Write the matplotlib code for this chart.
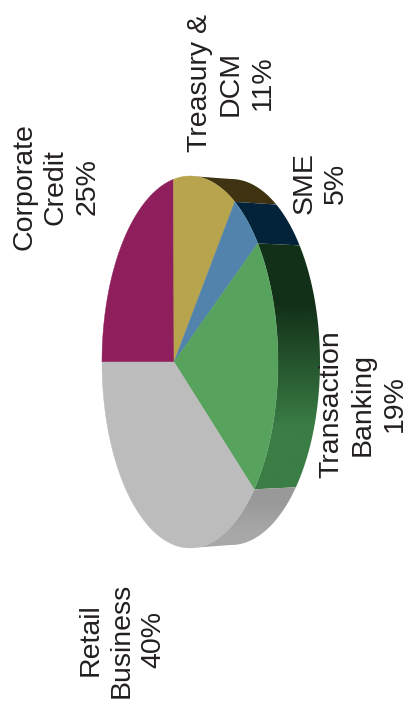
import numpy as np
import matplotlib
matplotlib.use("Agg")
import matplotlib.pyplot as plt
from matplotlib.patches import Polygon
from matplotlib.colors import to_rgb

plt.rcParams['font.family'] = ['Liberation Sans', 'DejaVu Sans']

# order: clockwise on screen starting from the left edge of the ellipse
labels = ["Corporate\nCredit\n25%", "Treasury &\nDCM\n11%", "SME\n5%",
          "Transaction\nBanking\n19%", "Retail\nBusiness\n40%"]
# shares of the rim as drawn, the 3D tilt makes them differ from the printed %
shares = [22.0, 11.5, 5.5, 23.0, 38.0]
top_colors = ["#8f1f5c", "#b8a44c", "#5283ad", "#57a25c", "#bcbcbc"]
# wall colours at the upper and lower end of each slice
wall_upper = ["#8f1f5c", "#3f3312", "#03233a", "#123018", "#999999"]
wall_lower = ["#8f1f5c", "#3f3312", "#03233a", "#3a7d45", "#a8a8a8"]
label_x = [56, 231, 320, 363, 122]
label_y = [187, 83, 183, 404, 640]

W, H = 411, 708
fig = plt.figure(figsize=(W / 100, H / 100), dpi=100)
ax = fig.add_axes([0, 0, 1, 1])
ax.set_xlim(0, W)
ax.set_ylim(H, 0)
ax.axis("off")

# front face ellipse, back rim ellipse and the apex of the slices
cx, cy, rx, ry = 190, 362, 88, 186
bx, by, brx, bry = 231, 362, 89, 183
apex = (174, 362)


def front(a):
    return cx + rx * np.cos(a), cy - ry * np.sin(a)


def back(a):
    return bx + brx * np.cos(a), by - bry * np.sin(a)


edges = 180 - np.cumsum([0] + shares) * 3.6

# side walls, only the right hand half of the rim can be seen
for i in range(len(shares)):
    a0, a1 = min(edges[i], 90), max(edges[i + 1], -90)
    if a0 <= a1:
        continue
    a = np.radians(np.linspace(a0, a1, 80))
    fx, fy = front(a)
    ox, oy = back(a)
    xs = np.r_[fx, ox[::-1]]
    ys = np.r_[fy, oy[::-1]]
    grad = np.array([[to_rgb(wall_upper[i])], [to_rgb(wall_lower[i])]])
    im = ax.imshow(grad, extent=(xs.min(), xs.max(), ys.max(), ys.min()),
                   interpolation="bilinear", aspect="auto", zorder=2)
    im.set_clip_path(Polygon(np.c_[xs, ys], transform=ax.transData))
ax.set_xlim(0, W)
ax.set_ylim(H, 0)

# front face
for i in range(len(shares)):
    a = np.radians(np.linspace(edges[i], edges[i + 1], 80))
    x, y = front(a)
    ax.fill(np.r_[apex[0], x], np.r_[apex[1], y], color=top_colors[i],
            lw=0.3, zorder=3)

for i in range(len(labels)):
    ax.text(label_x[i], label_y[i], labels[i], rotation=90, ha="center",
            va="center", fontsize=20.5, color="#231f20", linespacing=1.27,
            multialignment="center", zorder=4)

fig.savefig("out.png", dpi=100)
